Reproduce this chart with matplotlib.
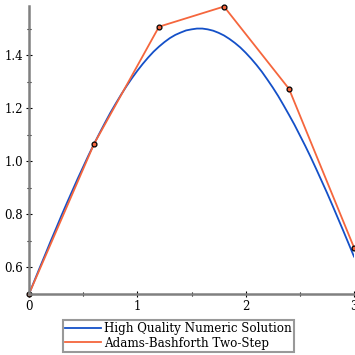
import matplotlib
matplotlib.use("Agg")
import matplotlib.pyplot as plt
from matplotlib.ticker import MultipleLocator

# smooth reference solution, sampled every 0.05
t_exact = [0.00, 0.05, 0.10, 0.15, 0.20, 0.25, 0.30, 0.35, 0.40, 0.45,
           0.50, 0.55, 0.60, 0.65, 0.70, 0.75, 0.80, 0.85, 0.90, 0.95,
           1.00, 1.05, 1.10, 1.15, 1.20, 1.25, 1.30, 1.35, 1.40, 1.45,
           1.50, 1.55, 1.60, 1.65, 1.70, 1.75, 1.80, 1.85, 1.90, 1.95,
           2.00, 2.05, 2.10, 2.15, 2.20, 2.25, 2.30, 2.35, 2.40, 2.45,
           2.50, 2.55, 2.60, 2.65, 2.70, 2.75, 2.80, 2.85, 2.90, 2.95, 3.00]
y_exact = [0.500, 0.550, 0.600, 0.649, 0.699, 0.747, 0.796, 0.843, 0.889, 0.935,
           0.979, 1.023, 1.065, 1.105, 1.144, 1.182, 1.217, 1.251, 1.283, 1.313,
           1.341, 1.367, 1.391, 1.413, 1.432, 1.449, 1.464, 1.476, 1.485, 1.493,
           1.497, 1.500, 1.500, 1.497, 1.492, 1.484, 1.474, 1.461, 1.446, 1.429,
           1.409, 1.387, 1.363, 1.337, 1.308, 1.278, 1.246, 1.211, 1.175, 1.138,
           1.098, 1.058, 1.016, 0.972, 0.927, 0.882, 0.835, 0.787, 0.739, 0.690, 0.641]

# Adams-Bashforth two-step, h = 0.6
t_ab = [0.0, 0.6, 1.2, 1.8, 2.4, 3.0]
y_ab = [0.50, 1.065, 1.507, 1.583, 1.273, 0.675]

plt.rcParams['font.family'] = ['DejaVu Serif']

fig = plt.figure(figsize=(3.55, 3.55), dpi=100)
ax = fig.add_axes([29/355, 61/355, 325/355, 288/355])

ax.plot(t_exact, y_exact, color='#1450c8', lw=1.3, label='High Quality Numeric Solution')
ax.plot(t_ab, y_ab, color='#f5663d', lw=1.3, label='Adams-Bashforth Two-Step')
ax.plot(t_ab, y_ab, 'o', ms=3.5, mfc='#f5663d', mec='black', mew=0.9, clip_on=False)

ax.set_xlim(0, 3)
ax.set_ylim(0.5, 1.585)

ax.xaxis.set_major_locator(MultipleLocator(1))
ax.xaxis.set_minor_locator(MultipleLocator(0.5))
ax.yaxis.set_major_locator(MultipleLocator(0.2))
ax.yaxis.set_minor_locator(MultipleLocator(0.1))

for s in ['top', 'right']:
    ax.spines[s].set_visible(False)
for s in ['left', 'bottom']:
    ax.spines[s].set_color('#808080')
    ax.spines[s].set_linewidth(1.8)

ax.tick_params(which='major', direction='inout', length=5, width=0.8, labelsize=8.5, pad=2)
ax.tick_params(which='minor', direction='inout', length=3, width=0.8)

leg = ax.legend(loc='upper center', bbox_to_anchor=((178.5 - 29) / 325, -0.09),
                fontsize=8.6, frameon=True, fancybox=False, borderpad=0.2, labelspacing=0.1,
                handlelength=3.0, handletextpad=0.3, borderaxespad=0)
leg.get_frame().set_edgecolor('#808080')
leg.get_frame().set_linewidth(1.5)

fig.savefig('out.png', dpi=100)
